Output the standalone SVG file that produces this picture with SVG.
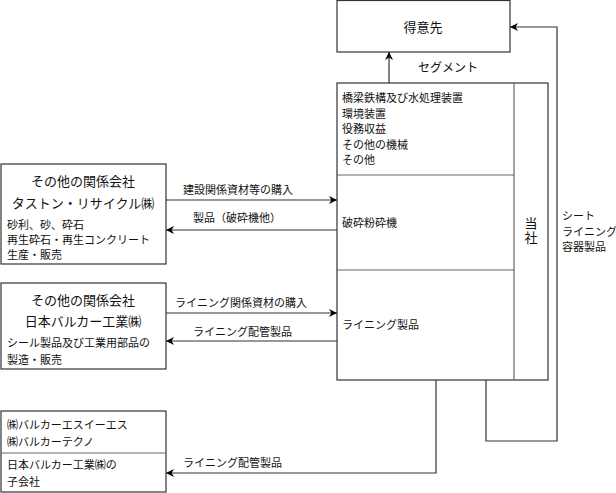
<svg xmlns="http://www.w3.org/2000/svg" width="616" height="493" viewBox="0 0 616 493">
<defs>
<marker id="ah" viewBox="0 0 10 10" refX="10" refY="5" markerWidth="8" markerHeight="8" markerUnits="userSpaceOnUse" orient="auto">
<path d="M0,0 L10,5 L0,10 L3,5 Z" fill="#000"/>
</marker>
<style>
.box{fill:#fff;stroke:#333;stroke-width:1.2}
.div{fill:none;stroke:#666;stroke-width:1.2}
.ln{fill:none;stroke:#333;stroke-width:1.2}
text{font-family:"Noto Sans CJK JP","Noto Sans",sans-serif;fill:#111}
.s{font-size:11px}
.t{font-size:13px}
.c{text-anchor:middle}
</style>
</defs>
<g id="customer">
<rect class="box" x="337" y="0.5" width="173" height="51.5"/>
<text class="t c" x="423" y="32">得意先</text>
</g>
<g id="company">
<rect class="box" x="337" y="83" width="211" height="297"/>
<line class="div" x1="514" y1="83" x2="514" y2="380"/>
<line class="div" x1="337" y1="175" x2="514" y2="175"/>
<line class="div" x1="337" y1="270" x2="514" y2="270"/>
<text class="s" x="342" y="102">橋梁鉄構及び水処理装置</text>
<text class="s" x="342" y="117.5">環境装置</text>
<text class="s" x="342" y="133">役務収益</text>
<text class="s" x="342" y="148.5">その他の機械</text>
<text class="s" x="342" y="164">その他</text>
<text class="s" x="342" y="227">破砕粉砕機</text>
<text class="s" x="342" y="329">ライニング製品</text>
<text x="531" y="217" style="font-size:13px;writing-mode:vertical-rl;letter-spacing:1px">当社</text>
</g>
<g id="taston">
<rect class="box" x="1" y="164" width="165" height="100"/>
<text class="t c" x="83" y="186">その他の関係会社</text>
<text class="t c" x="83" y="208">タストン・リサイクル㈱</text>
<text class="s" x="7" y="229">砂利、砂、砕石</text>
<text class="s" x="7" y="244">再生砕石・再生コンクリート</text>
<text class="s" x="7" y="259">生産・販売</text>
</g>
<g id="valqua">
<rect class="box" x="1" y="283" width="165" height="86"/>
<text class="t c" x="83" y="305">その他の関係会社</text>
<text class="t c" x="83" y="326">日本バルカー工業㈱</text>
<text class="s" x="7" y="347">シール製品及び工業用部品の</text>
<text class="s" x="7" y="364">製造・販売</text>
</g>
<g id="subsidiaries">
<rect class="box" x="1" y="411" width="165" height="81"/>
<line class="div" x1="1" y1="453" x2="166" y2="453"/>
<text class="s" x="7" y="429">㈱バルカーエスイーエス</text>
<text class="s" x="7" y="446">㈱バルカーテクノ</text>
<text class="s" x="7" y="469">日本バルカー工業㈱の</text>
<text class="s" x="7" y="486">子会社</text>
</g>
<g id="connectors">
<line class="ln" x1="389" y1="83" x2="389" y2="52" marker-end="url(#ah)"/>
<text class="s" x="418" y="72" style="font-size:12px">セグメント</text>
<polyline class="ln" points="486,380 486,441 557,441 557,27 510,27" marker-end="url(#ah)"/>
<text class="s" x="562" y="220">シート</text>
<text class="s" x="562" y="235.5">ライニング</text>
<text class="s" x="562" y="251">容器製品</text>
<line class="ln" x1="166" y1="200" x2="337" y2="200" marker-end="url(#ah)"/>
<text class="s" x="183" y="194">建設関係資材等の購入</text>
<line class="ln" x1="337" y1="230" x2="166" y2="230" marker-end="url(#ah)"/>
<text class="s" x="193" y="222">製品（破砕機他）</text>
<line class="ln" x1="166" y1="313" x2="337" y2="313" marker-end="url(#ah)"/>
<text class="s" x="175" y="307">ライニング関係資材の購入</text>
<line class="ln" x1="337" y1="341" x2="166" y2="341" marker-end="url(#ah)"/>
<text class="s" x="193" y="336">ライニング配管製品</text>
<polyline class="ln" points="436,380 436,473 166,473" marker-end="url(#ah)"/>
<text class="s" x="183" y="467">ライニング配管製品</text>
</g>
</svg>
